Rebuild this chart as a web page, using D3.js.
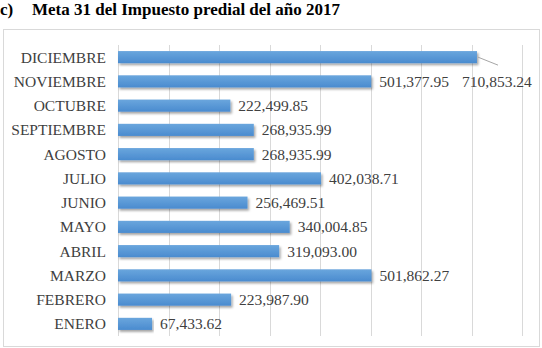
<!DOCTYPE html>
<html>
<head>
<meta charset="utf-8">
<script src="https://cdn.jsdelivr.net/npm/d3@7"></script>
<style>
  body { margin: 0; background: #fff; }
  text { font-family: "Liberation Serif", "Times New Roman", Times, "DejaVu Serif", serif; }
</style>
</head>
<body>
<div id="vis"></div>
<script>
var months = ["ENERO", "FEBRERO", "MARZO", "ABRIL", "MAYO", "JUNIO", "JULIO",
              "AGOSTO", "SEPTIEMBRE", "OCTUBRE", "NOVIEMBRE", "DICIEMBRE"];
var values = [67433.62, 223987.90, 501862.27, 319093.00, 340004.85, 256469.51, 402038.71,
              268935.99, 268935.99, 222499.85, 501377.95, 710853.24];
var xTicks = [0, 100000, 200000, 300000, 400000, 500000, 600000, 700000, 800000];

var width = 542, height = 348;
var margin = {top: 45, right: 20, bottom: 12, left: 118};

var svg = d3.select("#vis").append("svg")
    .attr("width", width)
    .attr("height", height)
    .style("display", "block");

// drop shadow for bars
var defs = svg.append("defs");
var f = defs.append("filter").attr("id", "shadow")
    .attr("x", "-5%").attr("y", "-30%").attr("width", "110%").attr("height", "180%");
f.append("feDropShadow")
    .attr("dx", 1.5).attr("dy", 2).attr("stdDeviation", 1.2)
    .attr("flood-color", "#000").attr("flood-opacity", 0.35);

var grad = defs.append("linearGradient").attr("id", "barfill")
    .attr("x1", 0).attr("y1", 0).attr("x2", 0).attr("y2", 1);
grad.append("stop").attr("offset", "0%").attr("stop-color", "#6aa6dd");
grad.append("stop").attr("offset", "100%").attr("stop-color", "#4a8bcf");

// title
svg.append("text")
    .attr("x", 0).attr("y", 15)
    .attr("font-size", 17).attr("font-weight", "bold")
    .attr("fill", "#000")
    .text("c)");
svg.append("text")
    .attr("x", 32).attr("y", 15)
    .attr("font-size", 17).attr("font-weight", "bold")
    .attr("fill", "#000")
    .text("Meta 31 del Impuesto predial del año 2017");

// chart frame
svg.append("rect")
    .attr("x", 3.5).attr("y", 29.5)
    .attr("width", 536).attr("height", 317)
    .attr("fill", "none")
    .attr("stroke", "#d9d9d9");

var x = d3.scaleLinear()
    .domain([0, 800000])
    .range([margin.left, 522]);

var y = d3.scaleBand()
    .domain(months.slice().reverse())
    .range([margin.top, 336])
    .paddingInner(0.5)
    .paddingOuter(0.25);

// gridlines
svg.append("g")
    .selectAll("line")
    .data(xTicks)
    .enter()
    .append("line")
    .attr("x1", function(d) { return Math.round(x(d)) + 0.5; })
    .attr("x2", function(d) { return Math.round(x(d)) + 0.5; })
    .attr("y1", margin.top)
    .attr("y2", 336)
    .attr("stroke", "#d9d9d9");

// category labels
svg.append("g")
    .selectAll("text")
    .data(months)
    .enter()
    .append("text")
    .attr("x", 106)
    .attr("y", function(d) { return y(d) + y.bandwidth() / 2; })
    .attr("dy", "0.35em")
    .attr("text-anchor", "end")
    .attr("font-size", 15.5)
    .attr("fill", "#404040")
    .text(function(d) { return d; });

// bars
svg.append("g")
    .selectAll("rect")
    .data(months)
    .enter()
    .append("rect")
    .attr("x", x(0))
    .attr("y", function(d) { return y(d); })
    .attr("width", function(d, i) { return x(values[i]) - x(0); })
    .attr("height", y.bandwidth())
    .attr("fill", "url(#barfill)")
    .attr("filter", "url(#shadow)");

var fmt = d3.format(",.2f");

// value labels
var last = months.length - 1;
svg.append("g")
    .selectAll("text")
    .data(months)
    .enter()
    .append("text")
    .attr("x", function(d, i) { return i === last ? 462 : x(values[i]) + 8; })
    .attr("y", function(d, i) {
      var row = i === last ? months[last - 1] : d;
      return y(row) + y.bandwidth() / 2;
    })
    .attr("dy", "0.35em")
    .attr("font-size", 15.5)
    .attr("fill", "#404040")
    .text(function(d, i) { return fmt(values[i]); });

// leader line for the moved DICIEMBRE label
svg.append("line")
    .attr("x1", x(values[last]) + 1)
    .attr("y1", y(months[last]) + y.bandwidth() / 2)
    .attr("x2", 498)
    .attr("y2", y(months[last]) + y.bandwidth() / 2 + 8)
    .attr("stroke", "#a6a6a6");
</script>
</body>
</html>
